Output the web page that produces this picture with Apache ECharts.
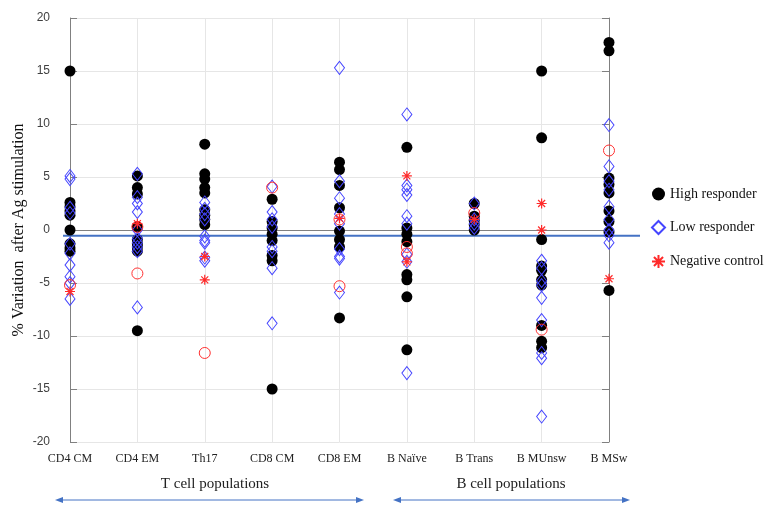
<!DOCTYPE html>
<html>
<head>
<meta charset="utf-8">
<script src="https://cdn.jsdelivr.net/npm/echarts@6/dist/echarts.min.js"></script>
<style>html,body{margin:0;padding:0;background:#fff;}#c{width:772px;height:513px;}</style>
</head>
<body>
<div id="c"></div>
<script>
const categories = ['CD4 CM','CD4 EM','Th17','CD8 CM','CD8 EM','B Naïve','B Trans','B MUnsw','B MSw'];
const yTicks = [-20,-15,-10,-5,0,5,10,15,20];
const highResponder = [
  [15, 2.6, 2.2, 1.8, 1.4, 0, -1.3, -1.7, -2.0],
  [5.1, 4.0, 3.4, 0.3, -0.9, -1.3, -1.6, -2.0, -9.5],
  [8.1, 5.3, 4.8, 4.0, 3.5, 1.9, 1.4, 1.0, 0.5],
  [2.9, 0.8, 0.2, -0.4, -1.0, -2.4, -2.9, -15.0],
  [6.4, 5.7, 4.2, 2.1, -0.1, -0.9, -1.6, -8.3],
  [7.8, 0.2, -0.4, -1.1, -4.2, -4.7, -6.3, -11.3],
  [2.5, 1.3, 0.9, 0.5, 0.0],
  [15.0, 8.7, -0.9, -3.4, -3.8, -4.7, -5.2, -9.0, -10.5, -11.1],
  [17.7, 16.9, 4.9, 4.3, 3.5, 1.8, 0.8, -0.2, -5.7]
];
const lowResponder = [
  [5.1, 4.8, 2.1, 1.6, -1.3, -2.2, -3.3, -4.4, -5.0, -6.5],
  [5.3, 3.1, 2.5, 1.7, 0.0, -0.8, -1.2, -1.6, -2.0, -7.3],
  [2.6, 2.0, 1.5, 1.0, -0.6, -1.0, -1.2, -2.6, -2.9],
  [4.1, 1.7, 1.0, 0.3, -1.6, -2.0, -3.6, -8.8],
  [15.3, 4.6, 3.0, 1.5, 0.6, -1.8, -2.5, -2.7, -5.9],
  [10.9, 4.2, 3.8, 3.3, 1.3, 0.6, -2.3, -3.0, -13.5],
  [2.5, 1.0, 0.6, 0.2],
  [-2.9, -3.6, -4.8, -5.2, -6.4, -8.5, -11.6, -12.1, -17.6],
  [9.9, 6.0, 4.6, 3.8, 2.2, 1.0, 0.0, -0.5, -1.2]
];
const negControlStar = [[-5.8],[0.6],[-2.5,-4.7],[],[1.1],[5.1,-3.0],[1.0],[2.5,0.0],[-4.6]];
const negControlCircle = [[-5.2],[0.3,-4.1],[-11.6],[4.0],[1.0,-5.3],[-1.6,-2.2],[1.6],[-9.4],[7.5]];
const baseline = -0.55;

function pts(groups){ const out=[]; groups.forEach((g,i)=>g.forEach(v=>out.push([i,v]))); return out; }
const star = 'path://M0,-5L0,5M-5,0L5,0M-3.5,-3.5L3.5,3.5M-3.5,3.5L3.5,-3.5';
const serif = 'Liberation Serif';
const blue = '#4472c4';

const chart = echarts.init(document.getElementById('c'));
chart.setOption({
  animation:false,
  backgroundColor:'#fff',
  grid:[
    {left:70,right:163,top:18,bottom:71,outerBoundsMode:'none',containLabel:false},
    {left:63,right:132,top:18,bottom:71,outerBoundsMode:'none',containLabel:false}
  ],
  legend:{
    data:['High responder','Low responder','Negative control'],
    orient:'vertical', left:646, top:182, itemGap:19, itemWidth:13, itemHeight:13,
    textStyle:{fontFamily:serif,fontSize:14,color:'#111'}
  },
  xAxis:[
    {type:'category',gridIndex:0,data:categories,boundaryGap:false,
     axisLine:{lineStyle:{color:'#808080'}},
     axisTick:{inside:true,length:5,lineStyle:{color:'#808080'}},
     axisLabel:{fontFamily:serif,fontSize:12,color:'#222',margin:11,interval:0},
     splitLine:{show:true,lineStyle:{color:'#e6e6e6'}}},
    {type:'category',gridIndex:0,position:'top',data:categories,boundaryGap:false,
     axisLine:{lineStyle:{color:'#808080'}},
     axisTick:{inside:true,length:5,lineStyle:{color:'#808080'}},
     axisLabel:{show:false},splitLine:{show:false}},
    {type:'value',gridIndex:1,min:0,max:1,show:false}
  ],
  yAxis:[
    {type:'value',gridIndex:0,min:-20,max:20,interval:5,
     axisLine:{show:true,lineStyle:{color:'#808080'}},
     axisTick:{show:true,inside:true,length:7,lineStyle:{color:'#808080'}},
     axisLabel:{fontFamily:'Liberation Sans',fontSize:12,color:'#404040',margin:20},
     splitLine:{show:true,lineStyle:{color:'#e6e6e6'}},
     name:'% Variation  after Ag stimulation',nameLocation:'middle',nameGap:43,nameMoveOverlap:false,
     nameTextStyle:{fontFamily:serif,fontSize:16,color:'#111'}},
    {type:'value',gridIndex:0,position:'right',min:-20,max:20,interval:5,
     axisLine:{show:true,lineStyle:{color:'#808080'}},
     axisTick:{show:true,inside:true,length:7,lineStyle:{color:'#808080'}},
     axisLabel:{show:false},splitLine:{show:false}},
    {type:'value',gridIndex:1,min:-20,max:20,show:false}
  ],
  series:[
    {name:'baseline',type:'line',xAxisIndex:2,yAxisIndex:2,data:[[0,baseline],[1,baseline]],
     symbol:'none',lineStyle:{color:blue,width:2},z:1,silent:true},
    {name:'High responder',type:'scatter',xAxisIndex:0,yAxisIndex:0,data:pts(highResponder),
     symbol:'circle',symbolSize:11,itemStyle:{color:'#000',opacity:1},z:2},
    {name:'Low responder',type:'scatter',xAxisIndex:0,yAxisIndex:0,data:pts(lowResponder),
     symbol:'diamond',symbolSize:[10,13],itemStyle:{color:'rgba(0,0,0,0)',borderColor:'#4545ff',borderWidth:1,opacity:1},z:3},
    {name:'Negative control',type:'scatter',xAxisIndex:0,yAxisIndex:0,data:pts(negControlStar),
     symbol:star,symbolSize:10,itemStyle:{color:'rgba(0,0,0,0)',borderColor:'#ff2a2a',borderWidth:1.2,opacity:1},z:4},
    {name:'Negative control ',type:'scatter',xAxisIndex:0,yAxisIndex:0,data:pts(negControlCircle),
     symbol:'circle',symbolSize:11,itemStyle:{color:'rgba(0,0,0,0)',borderColor:'#ff3030',borderWidth:1,opacity:1},z:4}
  ],
  graphic:[
    {type:'text',style:{text:'T cell populations',x:215,y:484,align:'center',verticalAlign:'middle',font:'15px "Liberation Serif"',fill:'#222'}},
    {type:'text',style:{text:'B cell populations',x:511,y:484,align:'center',verticalAlign:'middle',font:'15px "Liberation Serif"',fill:'#222'}},
    {type:'line',shape:{x1:60,y1:500,x2:358,y2:500},style:{stroke:blue,lineWidth:1}},
    {type:'polygon',shape:{points:[[55,500],[63,497],[63,503]]},style:{fill:blue}},
    {type:'polygon',shape:{points:[[364,500],[356,497],[356,503]]},style:{fill:blue}},
    {type:'line',shape:{x1:398,y1:500,x2:625,y2:500},style:{stroke:blue,lineWidth:1}},
    {type:'polygon',shape:{points:[[393,500],[401,497],[401,503]]},style:{fill:blue}},
    {type:'polygon',shape:{points:[[630,500],[622,497],[622,503]]},style:{fill:blue}}
  ]
});
</script>
</body>
</html>
